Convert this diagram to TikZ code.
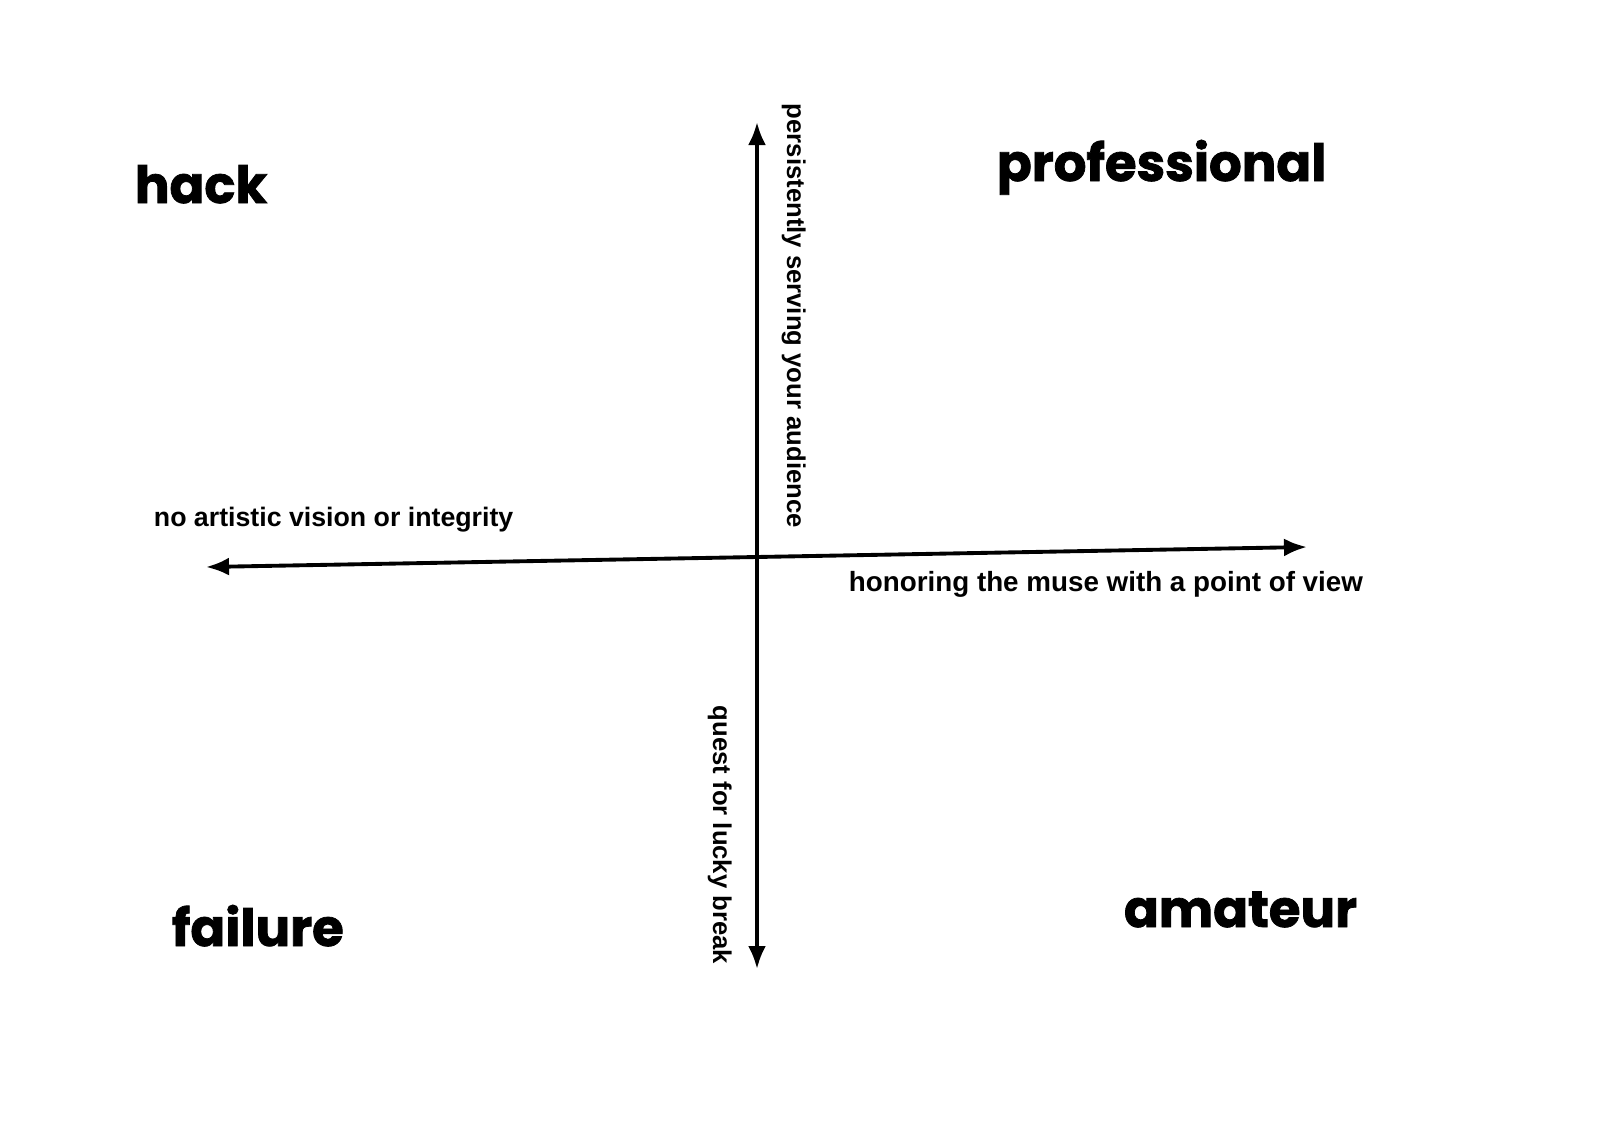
\documentclass[tikz,border=0pt]{standalone}
\usepackage{fontspec}
\setmainfont{Liberation Sans}
\newfontfamily\heavyfont{Poppins}[BoldFeatures={FakeBold=1.5}]
\usetikzlibrary{arrows.meta}

\begin{document}
\begin{tikzpicture}[
    x=0.01cm, y=-0.01cm,
    >={Latex[length=0.23cm, width=0.18cm]},
    line width=1.1pt,
    quad_label/.style={anchor=base west, inner sep=0pt, font=\heavyfont\bfseries\fontsize{14.6}{17}\selectfont},
    axis_label/.style={anchor=base west, inner sep=0pt, font=\bfseries\fontsize{7.6}{9}\selectfont},
    vert_label/.style={axis_label, rotate=-90, font=\bfseries\fontsize{7.3}{9}\selectfont}
]
\useasboundingbox (0,0) rectangle (1600,1133);

% --- AXIS ENDS ---
\coordinate (west_end) at (206,567);
\coordinate (east_end) at (1307,547);
\coordinate (north_end) at (757,122);
\coordinate (south_end) at (757,969);

% --- QUADRANTS ---
\node[quad_label] (hack) at (133,203) {hack};
\node[quad_label] (professional) at (995,181) {professional};
\node[quad_label] (failure) at (170,946) {failure};
\node[quad_label] (amateur) at (1122,927) {amateur};

% --- AXIS LABELS ---
\node[axis_label] (vision) at (152,526) {no artistic vision or integrity};
\node[axis_label, font=\bfseries\fontsize{7.9}{9}\selectfont] (muse) at (847,591) {honoring the muse with a point of view};
\node[vert_label] (audience) at (787,102) {persistently serving your audience};
\node[vert_label] (lucky) at (713,704) {quest for lucky break};

% --- EDGES ---
\draw[<->] (west_end) -- (east_end);
\draw[<->] (north_end) -- (south_end);

\end{tikzpicture}
\end{document}
